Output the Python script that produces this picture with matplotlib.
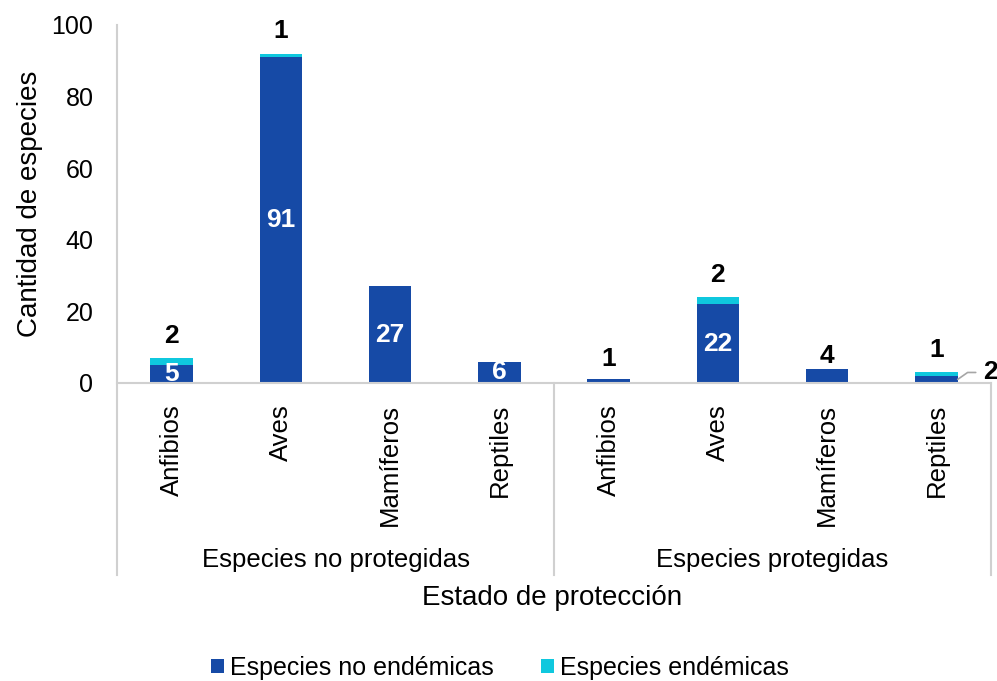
import matplotlib
matplotlib.use("Agg")
import matplotlib.pyplot as plt
import numpy as np

plt.rcParams['font.family'] = ['Liberation Sans', 'DejaVu Sans']

categories = ["Anfibios", "Aves", "Mamíferos", "Reptiles",
              "Anfibios", "Aves", "Mamíferos", "Reptiles"]
groups = ["Especies no protegidas", "Especies protegidas"]
no_endemicas = [5, 91, 27, 6, 1, 22, 4, 2]
endemicas = [2, 1, 0, 0, 0, 2, 0, 1]
series_names = ["Especies no endémicas", "Especies endémicas"]
yticks = [0, 20, 40, 60, 80, 100]

C_BLUE = "#164AA6"
C_CYAN = "#0FC8DE"
GRAY = "#D0D0D0"

W, H = 997, 681
fig = plt.figure(figsize=(W / 100, H / 100), dpi=100)
ax = fig.add_axes([117 / W, 1 - 383 / H, (991 - 117) / W, (383 - 25) / H])

x = np.arange(len(categories))
bw = 0.39
ne = np.array(no_endemicas)
en = np.array(endemicas)
ax.bar(x, ne, bw, color=C_BLUE, label=series_names[0], zorder=2)
ax.bar(x, en, bw, bottom=ne, color=C_CYAN, label=series_names[1], zorder=2)

ax.set_xlim(-0.5, len(categories) - 0.5)
ax.set_ylim(0, 100)
ax.set_yticks(yticks)
ax.set_yticklabels([str(t) for t in yticks], fontsize=18)
ax.set_xticks(x)
ax.set_xticklabels(categories, rotation=90, fontsize=18.5)
ax.tick_params(axis='y', length=0, pad=17)
ax.tick_params(axis='x', length=0, pad=15)
for s in ["top", "right", "left"]:
    ax.spines[s].set_visible(False)
ax.spines["bottom"].set_color(GRAY)
ax.spines["bottom"].set_linewidth(1.5)

# separators for categories / groups
ext = -(575 - 383) / (383 - 25)
for xf in [0.5, 1]:
    ax.plot([xf, xf], [ext, 0], transform=ax.transAxes,
            color=GRAY, lw=1.5, clip_on=False, zorder=1)
ax.plot([0, 0], [ext, 1.0], transform=ax.transAxes, color=GRAY, lw=1.5,
        clip_on=False)

gy = -(560 - 383) / (383 - 25)
for i, g in enumerate(groups):
    ax.text(0.25 + 0.5 * i, gy, g, transform=ax.transAxes, ha='center',
            va='center', fontsize=18.5)
ax.text(0.5 - 2 / 874, -(598 - 383) / (383 - 25), "Estado de protección",
        transform=ax.transAxes, ha='center', va='center', fontsize=20)
ax.set_ylabel("Cantidad de especies", fontsize=20, labelpad=6)

# data labels
LBL = 19
inside_min = 5
for i, (a, b) in enumerate(zip(ne, en)):
    if a >= inside_min:
        ax.text(x[i], a / 2, str(a), ha='center', va='center', color='white',
                fontsize=LBL, fontweight='bold', zorder=3)
    elif b == 0:
        off = 15 if a < 2 else 9
        ax.annotate(str(a), (x[i], a), xytext=(0, off), textcoords='offset points',
                    ha='center', va='center', fontsize=LBL, fontweight='bold')
    else:
        ax.annotate(str(a), (x[i] + bw / 2, a / 2), xytext=(18, 5),
                    textcoords='offset points', ha='left', va='center',
                    fontsize=LBL, fontweight='bold',
                    arrowprops=dict(arrowstyle='-', color='#A6A6A6', lw=1.2,
                                    shrinkA=3, shrinkB=0,
                                    connectionstyle='angle,angleA=0,angleB=35,rad=0',
                                    relpos=(0, 0.5)))
    if b > 0:
        ax.annotate(str(b), (x[i], a + b), xytext=(0, 16), textcoords='offset points',
                    ha='center', va='center', fontsize=LBL, fontweight='bold')

fig.legend(loc='center', bbox_to_anchor=(500 / W, 1 - 668 / H), ncol=2,
           frameon=False, fontsize=18, handlelength=0.5, handleheight=0.5,
           handletextpad=0.25, columnspacing=1.9)

fig.savefig("out.png", dpi=100)
